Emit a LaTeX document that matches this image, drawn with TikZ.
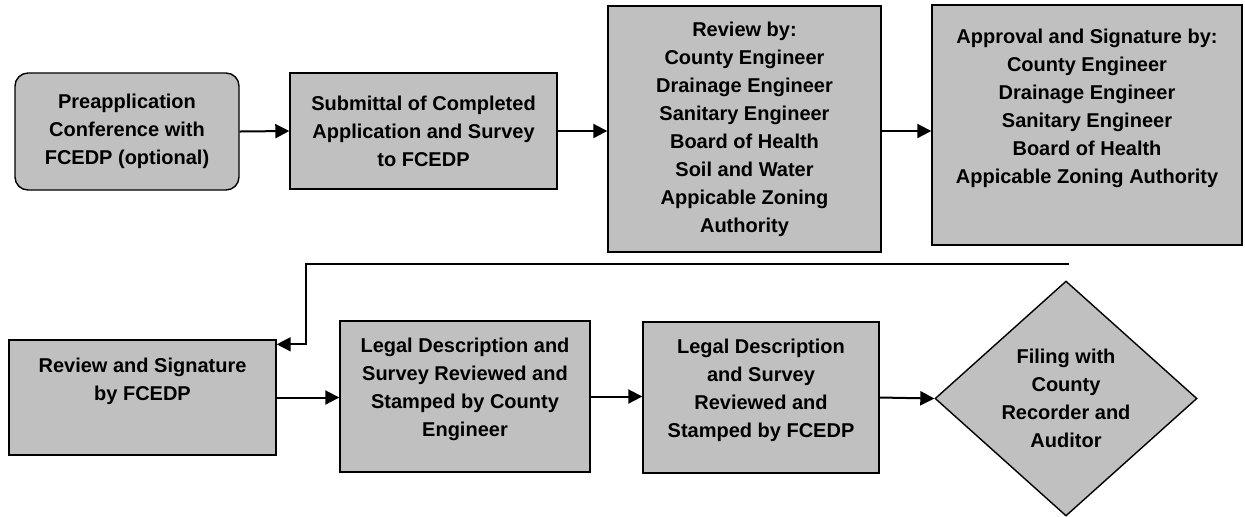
\documentclass[tikz,border=0pt]{standalone}
\usepackage{fontspec}
\setmainfont{Liberation Sans}
\usetikzlibrary{shapes.geometric,arrows.meta}
\definecolor{stepgray}{RGB}{192,192,192}
\begin{document}
\begin{tikzpicture}[x=0.5pt, y=-0.5pt,
    every node/.style={font=\bfseries\fontsize{10}{14}\selectfont, align=center, inner sep=0pt},
    stepbox/.style={draw, line width=0.7pt, fill=stepgray, rectangle},
    flow/.style={line width=1pt, -{Triangle[length=7pt,width=7pt]}}]
    \useasboundingbox (0,0) rectangle (1245,516);
    \node[stepbox, rounded corners=6.5pt, minimum width=112pt, minimum height=58.5pt] (pre) at (127,131.5) {Preapplication\\Conference with\\FCEDP (optional)};
    \node[stepbox, minimum width=133.5pt, minimum height=58pt] (submit) at (423.5,131) {Submittal of Completed\\Application and Survey\\to FCEDP};
    \node[stepbox, minimum width=136.5pt, minimum height=123pt] (review) at (744.5,129) {Review by:\\County Engineer\\Drainage Engineer\\Sanitary Engineer\\Board of Health\\Soil and Water\\Appicable Zoning\\Authority};
    \node[stepbox, minimum width=155pt, minimum height=120pt, text depth=19pt] (approve) at (1087,125) {Approval and Signature by:\\County Engineer\\Drainage Engineer\\Sanitary Engineer\\Board of Health\\Appicable Zoning Authority};
    \node[stepbox, minimum width=133.5pt, minimum height=57.5pt, text depth=18.5pt] (sign) at (142.5,397.5) {Review and Signature\\by FCEDP};
    \node[stepbox, minimum width=125pt, minimum height=75.5pt, text depth=9pt] (legalce) at (465,396.5) {Legal Description and\\Survey Reviewed and\\Stamped by County\\Engineer};
    \node[stepbox, minimum width=118pt, minimum height=75.5pt, text depth=9pt] (legalfc) at (761,397.5) {Legal Description\\and Survey\\Reviewed and\\Stamped by FCEDP};
    \node[stepbox, diamond, minimum width=131pt, minimum height=117.5pt] (filing) at (1066,398.5) {Filing with\\County\\Recorder and\\Auditor};
    \coordinate (back) at (1069,264);
    \coordinate (bend) at (306,264);
    \draw[flow] (pre.east) -- (submit.west);
    \draw[flow] (submit.east) -- (submit.east -| review.west);
    \draw[flow] (submit.east -| review.east) -- (submit.east -| approve.west);
    \draw[flow] (back) -- (bend) |- ([yshift=-2.5pt]sign.north east);
    \draw[flow] (sign.east) -- (sign.east -| legalce.west);
    \draw[flow] (legalce.east) -- (legalce.east -| legalfc.west);
    \draw[flow] (legalfc.east) -- (filing.west);
\end{tikzpicture}
\end{document}
